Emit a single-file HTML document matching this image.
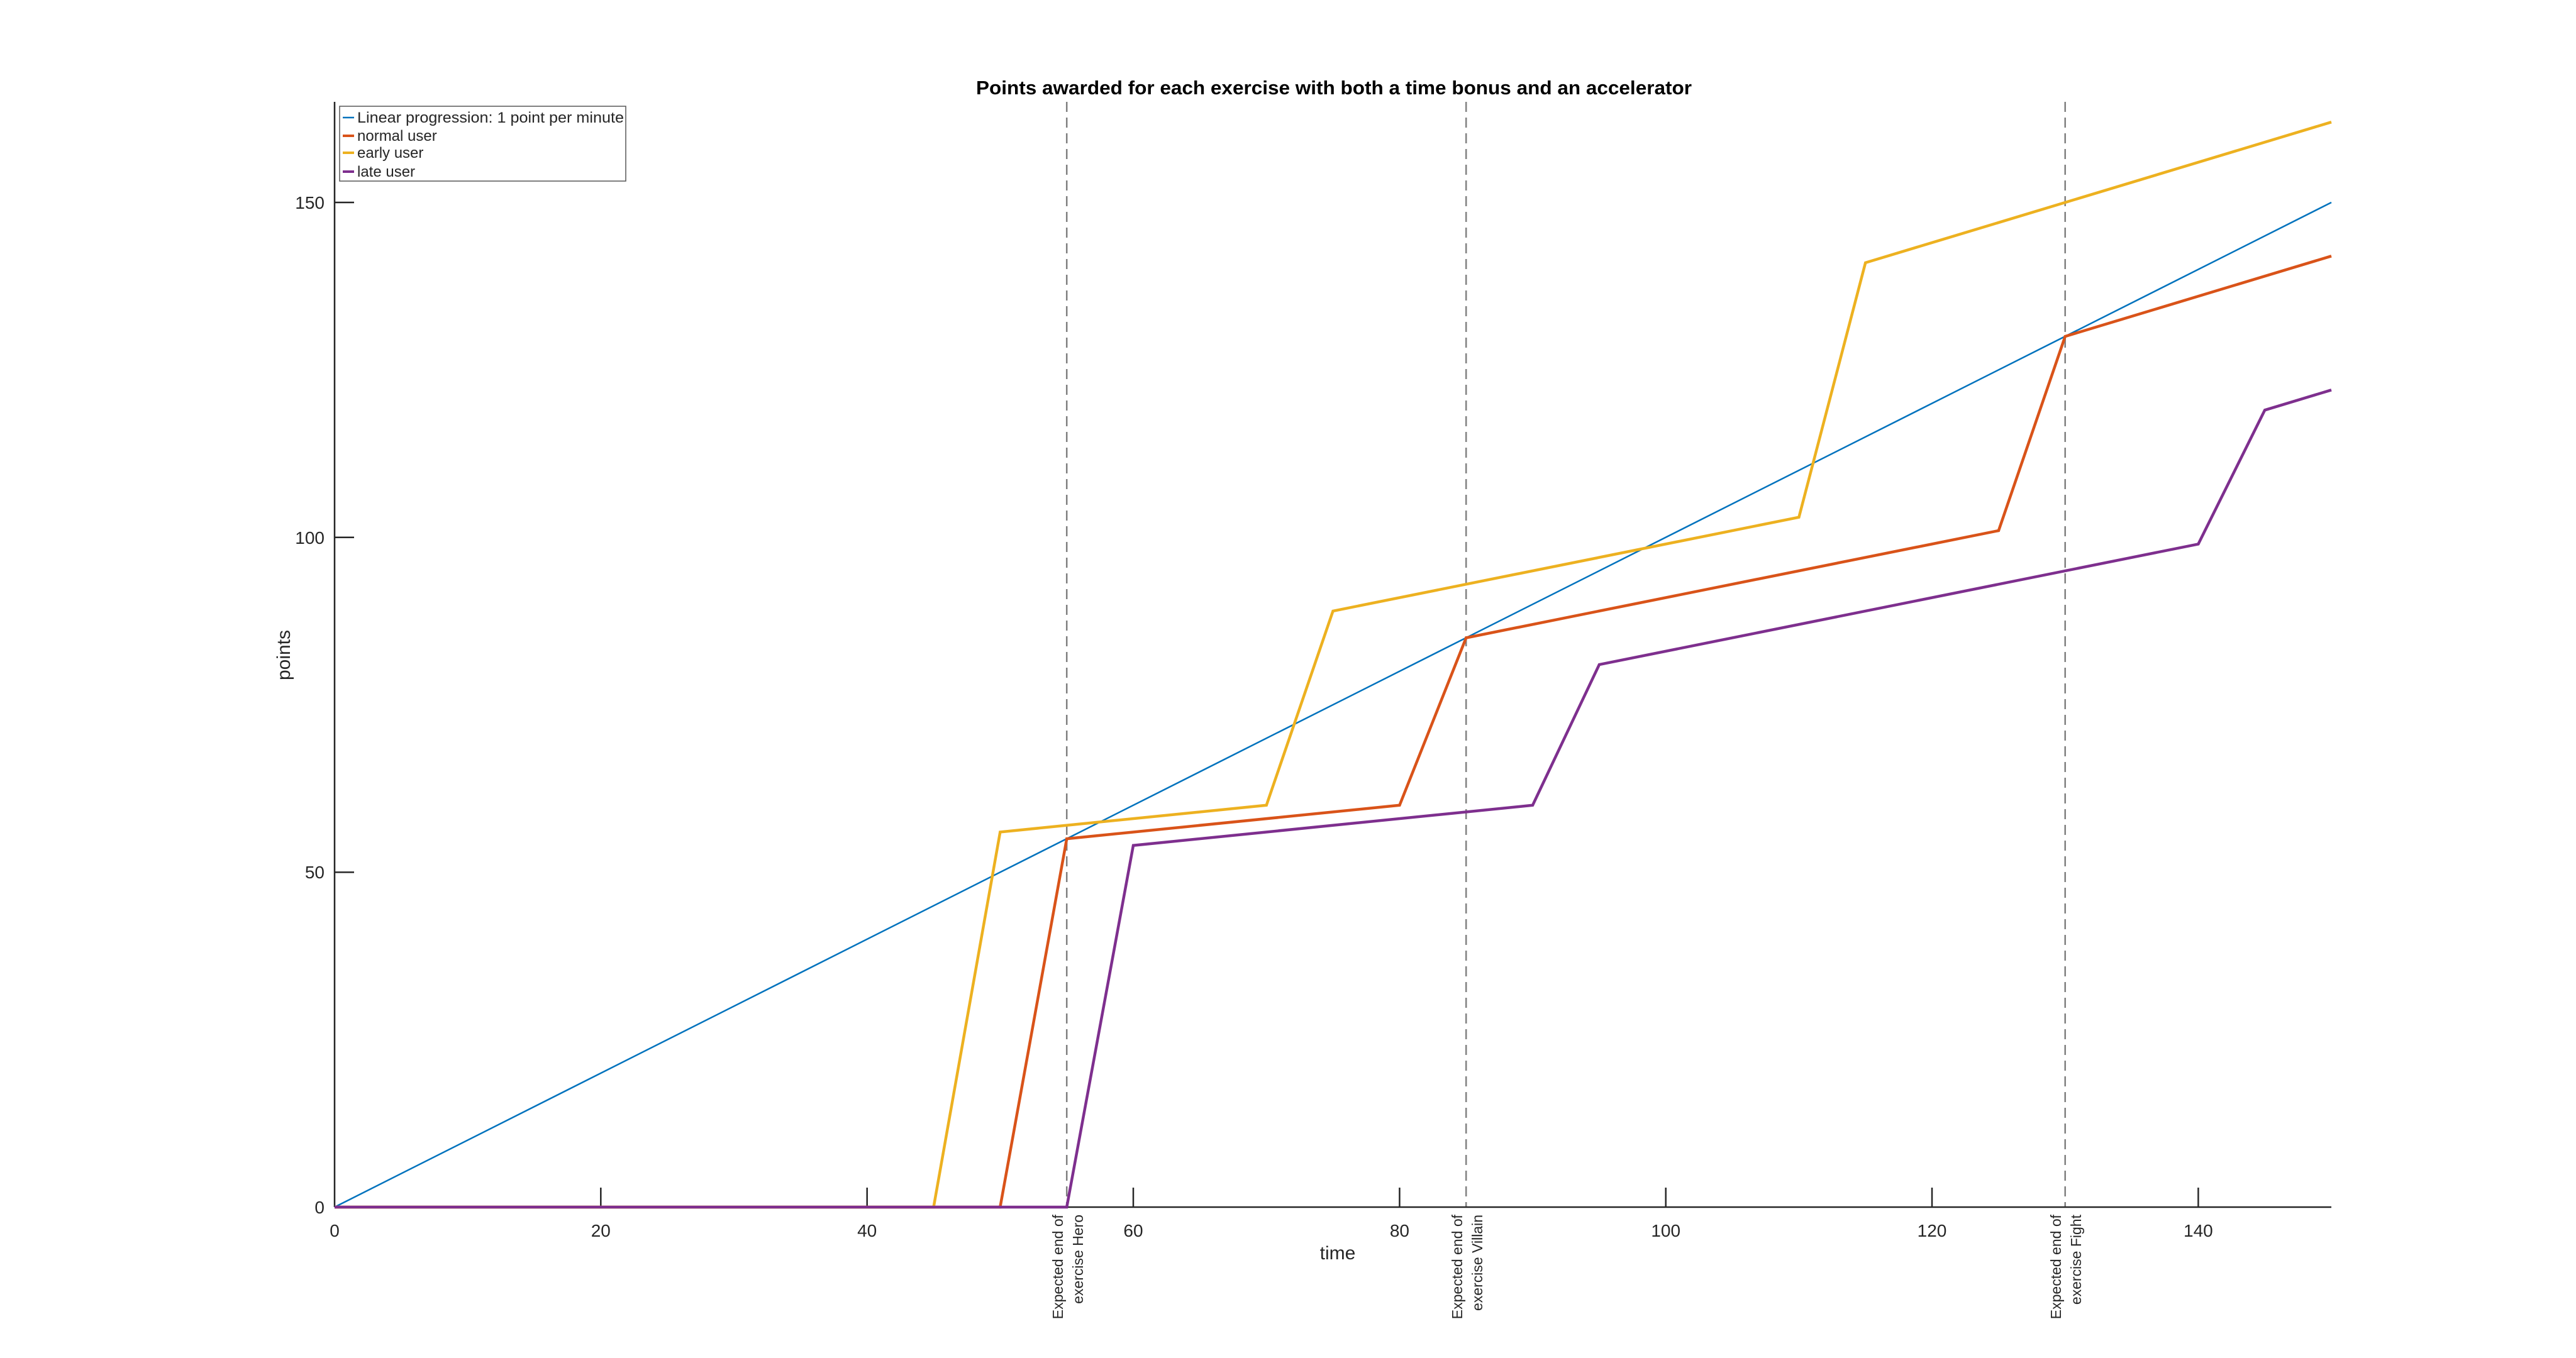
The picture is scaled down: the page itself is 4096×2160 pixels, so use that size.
<!DOCTYPE html>
<html><head><meta charset="utf-8"><style>
html,body{margin:0;padding:0;background:#fff;}
svg{display:block;}
text{font-family:"Liberation Sans",sans-serif;fill:#262626;}
</style></head><body>
<svg width="4096" height="2160" viewBox="0 0 4096 2160" xmlns="http://www.w3.org/2000/svg">
<rect width="4096" height="2160" fill="#fff"/>
<g stroke="#808080" stroke-width="2.5" stroke-dasharray="16,9" fill="none">
<line x1="1696.2" y1="162" x2="1696.2" y2="1920"/>
<line x1="2331.2" y1="162" x2="2331.2" y2="1920"/>
<line x1="3283.7" y1="162" x2="3283.7" y2="1920"/>
</g>
<g stroke="#262626" stroke-width="2.5" fill="none">
<line x1="532" y1="162" x2="532" y2="1920"/>
<line x1="532" y1="1920" x2="3707" y2="1920"/>
<line x1="955.3" y1="1920" x2="955.3" y2="1889"/>
<line x1="1378.7" y1="1920" x2="1378.7" y2="1889"/>
<line x1="1802" y1="1920" x2="1802" y2="1889"/>
<line x1="2225.4" y1="1920" x2="2225.4" y2="1889"/>
<line x1="2648.7" y1="1920" x2="2648.7" y2="1889"/>
<line x1="3072" y1="1920" x2="3072" y2="1889"/>
<line x1="3495.4" y1="1920" x2="3495.4" y2="1889"/>
<line x1="532" y1="1387.4" x2="563" y2="1387.4"/>
<line x1="532" y1="854.7" x2="563" y2="854.7"/>
<line x1="532" y1="322" x2="563" y2="322"/>
</g>
<g fill="none" stroke-linejoin="miter">
<polyline stroke="#0072BD" stroke-width="2.5" points="532,1920 3707,322"/>
<polyline stroke="#D95319" stroke-width="4.5" points="532,1920 1590.3,1920 1696.2,1334.1 2225.4,1280.8 2331.2,1014.5 3177.9,844 3283.7,535.1 3707,407.3"/>
<polyline stroke="#EDB120" stroke-width="4.5" points="532,1920 1484.5,1920 1590.3,1323.4 2013.7,1280.8 2119.5,971.9 2860.4,822.7 2966.2,417.9 3707,194.2"/>
<polyline stroke="#7E2F8E" stroke-width="4.5" points="532,1920 1696.2,1920 1802,1344.7 2437,1280.8 2542.9,1057.1 3495.4,865.4 3601.2,652.3 3707,620.3"/>
</g>
<g font-size="28" text-anchor="middle">
<text x="532" y="1967">0</text>
<text x="955.3" y="1967">20</text>
<text x="1378.7" y="1967">40</text>
<text x="1802" y="1967">60</text>
<text x="2225.4" y="1967">80</text>
<text x="2648.7" y="1967">100</text>
<text x="3072" y="1967">120</text>
<text x="3495.4" y="1967">140</text>
</g>
<g font-size="28" text-anchor="end">
<text x="516" y="1930">0</text>
<text x="516" y="1397">50</text>
<text x="516" y="865">100</text>
<text x="516" y="332">150</text>
</g>
<g font-size="23" text-anchor="end" fill="#000">
<text transform="translate(1690,1932) rotate(-90)">Expected end of</text>
<text transform="translate(1722,1932) rotate(-90)">exercise Hero</text>
<text transform="translate(2325,1932) rotate(-90)">Expected end of</text>
<text transform="translate(2357,1932) rotate(-90)">exercise Villain</text>
<text transform="translate(3277,1932) rotate(-90)">Expected end of</text>
<text transform="translate(3309,1932) rotate(-90)">exercise Fight</text>
</g>
<text x="2127" y="2003" font-size="30" text-anchor="middle">time</text>
<text transform="translate(461,1042) rotate(-90)" font-size="30" text-anchor="middle">points</text>
<text x="1552" y="150" font-size="31" font-weight="bold" textLength="1138" lengthAdjust="spacingAndGlyphs" style="fill:#000">Points awarded for each exercise with both a time bonus and an accelerator</text>
<rect x="540" y="169" width="455" height="119" fill="#fff" stroke="#555" stroke-width="1.5"/>
<g stroke-width="4">
<line x1="545" y1="187" x2="563" y2="187" stroke="#0072BD" stroke-width="2.5"/>
<line x1="545" y1="216" x2="563" y2="216" stroke="#D95319"/>
<line x1="545" y1="243" x2="563" y2="243" stroke="#EDB120"/>
<line x1="545" y1="273" x2="563" y2="273" stroke="#7E2F8E"/>
</g>
<g font-size="24" style="fill:#000">
<text x="568" y="195" textLength="424" lengthAdjust="spacingAndGlyphs">Linear progression: 1 point per minute</text>
<text x="568" y="224">normal user</text>
<text x="568" y="251">early user</text>
<text x="568" y="281">late user</text>
</g>
</svg>
</body></html>
